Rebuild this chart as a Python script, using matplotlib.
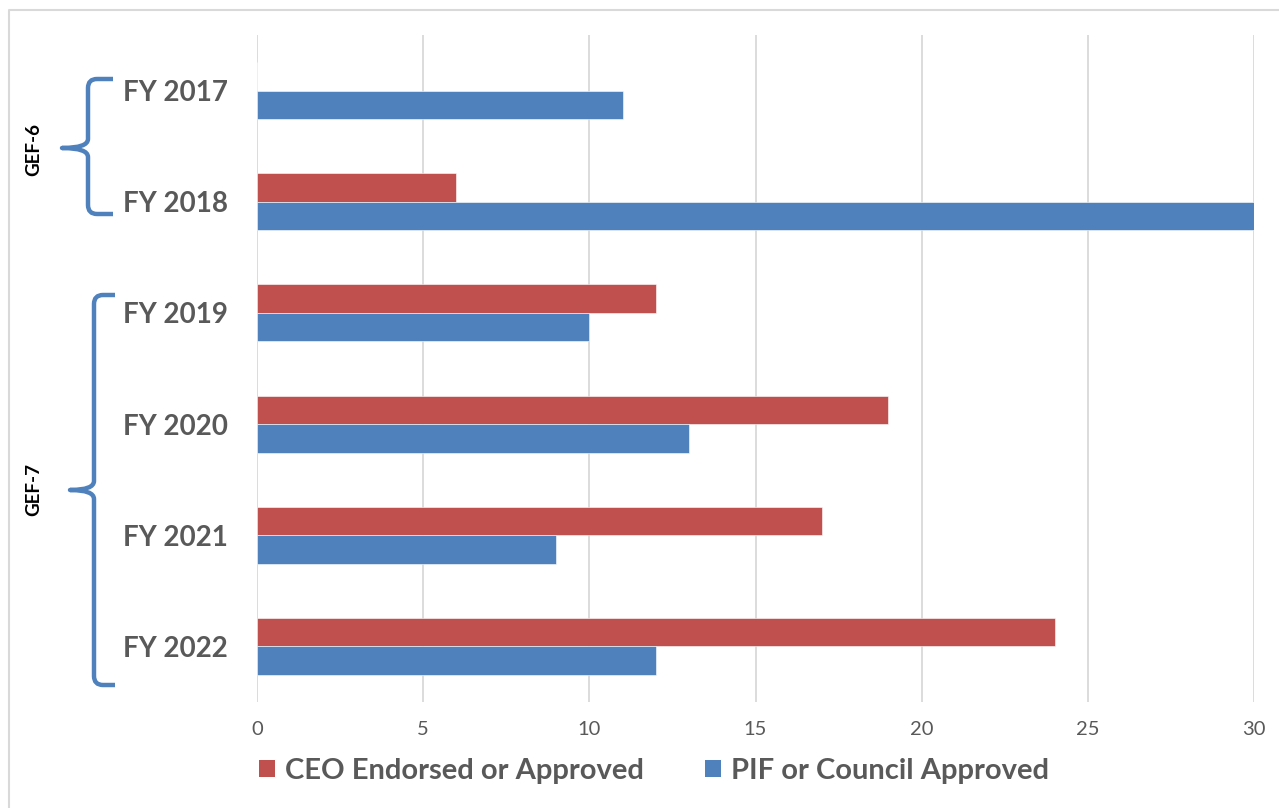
import matplotlib
matplotlib.use("Agg")
import matplotlib.pyplot as plt
import numpy as np
from matplotlib.path import Path
from matplotlib.patches import PathPatch, Patch
from matplotlib.lines import Line2D

categories = ["FY 2017", "FY 2018", "FY 2019", "FY 2020", "FY 2021", "FY 2022"]
ceo_endorsed = [0, 6, 12, 19, 17, 24]
pif_council = [11, 30, 10, 13, 9, 12]
series_names = ["CEO Endorsed or Approved", "PIF or Council Approved"]
x_ticks = [0, 5, 10, 15, 20, 25, 30]
groups = ["GEF-6", "GEF-7"]

RED = "#C0504D"
BLUE = "#4F81BD"
GRID = "#D9D9D9"
TXT = "#595959"
FONT = "Lato"

W, H = 1279, 808
fig = plt.figure(figsize=(W / 100, H / 100), dpi=100)
fig.patch.set_facecolor("white")

ax = fig.add_axes([257 / W, 1 - 702 / H, 997 / W, 667 / H])
y = np.arange(len(categories))
h = 0.257
ax.barh(y - h / 2, ceo_endorsed, height=h, color=RED, edgecolor="white", linewidth=0.4, zorder=3)
ax.barh(y + h / 2, pif_council, height=h, color=BLUE, edgecolor="white", linewidth=0.4, zorder=3)
ax.set_ylim(len(categories) - 0.5, -0.5)
ax.set_xlim(0, 30)
ax.set_xticks(x_ticks)
ax.set_xticklabels([str(t) for t in x_ticks], fontsize=14.5, color=TXT, family=FONT)
ax.set_yticks(y)
ax.set_yticklabels(categories, fontsize=20, color=TXT, family=FONT, fontweight="bold", ha="left")
ax.tick_params(axis="y", length=0, pad=(257 - 123) * 0.72)
ax.tick_params(axis="x", length=0, pad=14)
for s in ax.spines.values():
    s.set_visible(False)
ax.grid(axis="x", color=GRID, linewidth=1.3, zorder=0)
ax.set_axisbelow(True)

# overlay in pixel coordinates for frame and braces
ov = fig.add_axes([0, 0, 1, 1], zorder=-1)
ov.set_xlim(0, W)
ov.set_ylim(H, 0)
ov.axis("off")
ov.patch.set_alpha(0)
ov.add_line(Line2D([9, 9, W], [H, 10, 10], color=GRID, linewidth=1.5))


def brace(xv, xtip, xend, ytop, ybot, ymid, r=9):
    verts = [
        (xend, ytop), (xv + r, ytop), (xv, ytop), (xv, ytop + r),
        (xv, ymid - r), (xv, ymid), (xtip, ymid),
        (xv, ymid), (xv, ymid + r),
        (xv, ybot - r), (xv, ybot), (xv + r, ybot), (xend, ybot),
    ]
    codes = [Path.MOVETO, Path.LINETO, Path.CURVE3, Path.CURVE3,
             Path.LINETO, Path.CURVE3, Path.CURVE3,
             Path.CURVE3, Path.CURVE3,
             Path.LINETO, Path.CURVE3, Path.CURVE3, Path.LINETO]
    ov.add_patch(PathPatch(Path(verts, codes), facecolor="none", edgecolor=BLUE,
                           linewidth=3.2, capstyle="butt", joinstyle="round"))


brace(88, 62, 113, 79, 214, 148)
brace(94, 70, 115, 295, 685, 490)
ov.text(34, 150, groups[0], rotation=90, ha="center", va="center", fontsize=13.5,
        fontweight="bold", color="black", family=FONT)
ov.text(34, 490, groups[1], rotation=90, ha="center", va="center", fontsize=13.5,
        fontweight="bold", color="black", family=FONT)

handles = [Patch(facecolor=RED), Patch(facecolor=BLUE)]
leg = fig.legend(handles, series_names, loc="center", bbox_to_anchor=(654 / W, 1 - 771 / H),
                 ncol=2, frameon=False, handlelength=0.55, handleheight=0.55,
                 handletextpad=0.35, columnspacing=2.1,
                 prop={"family": FONT, "weight": "bold", "size": 21})
for t in leg.get_texts():
    t.set_color(TXT)

fig.savefig("out.png", dpi=100)
